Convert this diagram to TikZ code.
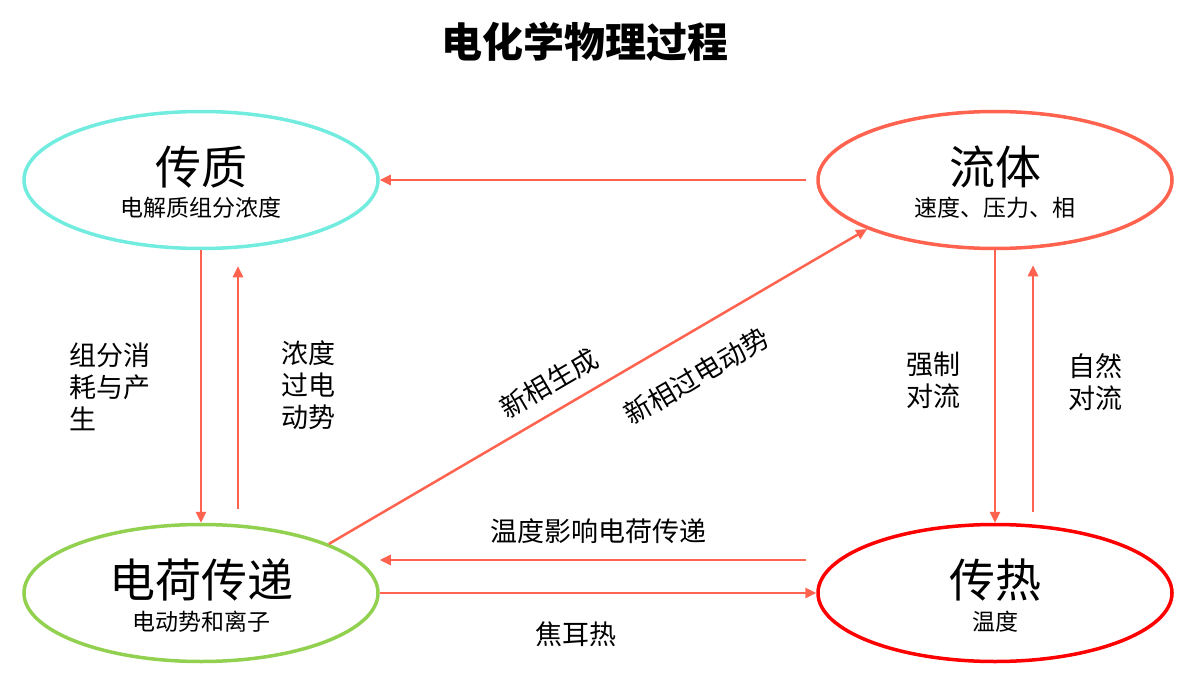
\documentclass[tikz,border=0pt]{standalone}
\usepackage{fontspec}
\setmainfont{Noto Sans CJK SC}
\usetikzlibrary{arrows.meta, shapes.geometric}
\definecolor{cyanline}{RGB}{115,236,224}
\definecolor{coral}{RGB}{255,99,79}
\definecolor{leafgreen}{RGB}{146,208,80}
\definecolor{hotred}{RGB}{255,0,0}

\begin{document}
\begin{tikzpicture}[x=1pt, y=-1pt,
        phase/.style={ellipse, draw, line width=3.5pt, minimum width=354pt, minimum height=137pt, inner sep=0pt},
        bigtext/.style={font=\fontsize{46}{50}\selectfont, inner sep=0pt},
        subtext/.style={font=\fontsize{23}{26}\selectfont, inner sep=0pt},
        lbl/.style={font=\fontsize{27}{32}\selectfont, inner sep=0pt, align=left},
        arrow/.style={draw=coral, line width=2.5pt, -{Triangle[length=11pt, width=10pt]}}
    ]
        \useasboundingbox (0,0) rectangle (1202,690);
        \node [font=\bfseries\fontsize{41}{44}\selectfont] (title) at (585,42) {电化学物理过程};

        \node [phase, draw=cyanline]  (mass)   at (201,180) {};
        \node [phase, draw=coral]     (fluid)  at (995,180) {};
        \node [phase, draw=leafgreen] (charge) at (201,593) {};
        \node [phase, draw=hotred]    (heat)   at (995,593) {};

        \node [bigtext] (massT)   at (201,167) {传质};
        \node [subtext] (massS)   at (201,208) {电解质组分浓度};
        \node [bigtext] (fluidT)  at (995,167) {流体};
        \node [subtext] (fluidS)  at (995,208) {速度、压力、相};
        \node [bigtext] (chargeT) at (201,580) {电荷传递};
        \node [subtext] (chargeS) at (201,622) {电动势和离子};
        \node [bigtext] (heatT)   at (995,580) {传热};
        \node [subtext] (heatS)   at (995,622) {温度};

        \path [arrow, shorten <=10pt] (fluid.west) -- (mass.east);
        \path [arrow] (mass.south) -- (charge.north)
            node [midway, lbl, left=49pt] {组分消\\耗与产\\生};
        \path [arrow] ([xshift=37pt, yshift=14pt]charge.north) -- ([xshift=37pt, yshift=-16pt]mass.south)
            node [pos=0.51, lbl, right=42pt] {浓度\\过电\\动势};
        \path [arrow] (fluid.south) -- (heat.north)
            node [pos=0.478, lbl, left=33pt] {强制\\对流};
        \path [arrow] ([xshift=38pt, yshift=11pt]heat.north) -- ([xshift=38pt, yshift=-15pt]fluid.south)
            node [pos=0.526, lbl, right=34pt] {自然\\对流};
        \path [arrow, shorten <=10pt] ([yshift=33pt]heat.west) -- ([yshift=33pt]charge.east)
            node [midway, lbl, above=15pt] {温度影响电荷传递};
        \path [arrow] (charge.east) -- (heat.west)
            node [pos=0.45, lbl, below=27pt] {焦耳热};
        \path [arrow] (charge.21.5) -- (fluid.201.8)
            node [pos=0.435, sloped, lbl, above=14pt] {新相生成}
            node [pos=0.645, sloped, lbl, below=27pt] {新相过电动势};
    \end{tikzpicture}
\end{document}
